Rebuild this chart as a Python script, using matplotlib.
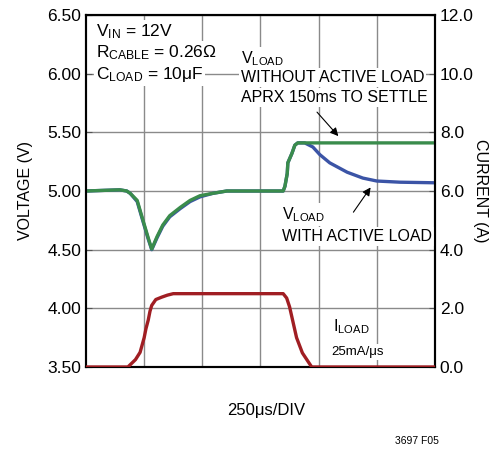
import matplotlib
matplotlib.use('Agg')
import matplotlib.pyplot as plt

plt.rcParams['font.family'] = ['Liberation Sans', 'DejaVu Sans']
plt.rcParams['mathtext.fontset'] = 'custom'
plt.rcParams['mathtext.rm'] = 'Liberation Sans'
plt.rcParams['mathtext.it'] = 'Liberation Sans'

# time in divisions (250us/div)
t_nal = [0, 0.58, 0.70, 0.76, 0.88, 0.98, 1.07, 1.13, 1.22, 1.32, 1.44, 1.62, 1.79,
         1.96, 2.18, 2.42, 3.39, 3.42, 3.46, 3.47, 3.54, 3.59, 3.64, 6.0]
v_nal = [5.00, 5.01, 5.00, 4.98, 4.92, 4.75, 4.60, 4.505, 4.61, 4.71, 4.79, 4.86, 4.92,
         4.96, 4.98, 5.00, 5.00, 5.04, 5.15, 5.24, 5.32, 5.39, 5.41, 5.41]

t_al = [0, 0.58, 0.70, 0.76, 0.88, 0.98, 1.07, 1.13, 1.22, 1.32, 1.44, 1.62, 1.79,
        1.96, 2.18, 2.42, 3.39, 3.42, 3.46, 3.47, 3.54, 3.59, 3.64, 3.76, 3.90, 4.02,
        4.19, 4.49, 4.76, 5.00, 5.40, 6.0]
v_al = [5.00, 5.01, 5.00, 4.98, 4.91, 4.74, 4.59, 4.50, 4.60, 4.70, 4.78, 4.85, 4.91,
        4.95, 4.98, 5.00, 5.00, 5.04, 5.15, 5.24, 5.32, 5.39, 5.41, 5.41, 5.375, 5.31,
        5.24, 5.16, 5.11, 5.085, 5.075, 5.07]

t_i = [0, 0.72, 0.85, 0.93, 1.0, 1.03, 1.07, 1.10, 1.13, 1.2, 1.3, 1.4, 1.5,
       3.39, 3.45, 3.5, 3.54, 3.62, 3.72, 3.88, 6.0]
i_load = [0, 0, 0.25, 0.5, 1.0, 1.3, 1.6, 1.9, 2.1, 2.3, 2.38, 2.45, 2.5,
          2.5, 2.35, 2.05, 1.7, 1.0, 0.48, 0, 0]

v_ticks = [3.5, 4.0, 4.5, 5.0, 5.5, 6.0, 6.5]
i_ticks = [0, 2, 4, 6, 8, 10, 12]

fig = plt.figure(figsize=(5.02, 4.5), dpi=100)
ax = fig.add_axes([86/502, 83/450, 349/502, 352/450])
ax2 = ax.twinx()

ax.set_xlim(0, 6)
ax.set_ylim(3.5, 6.5)
ax2.set_ylim(0, 12)
ax.set_xticks([1, 2, 3, 4, 5])
ax.set_yticks(v_ticks)
ax.set_yticklabels(['%.2f' % v for v in v_ticks])
ax2.set_yticks(i_ticks)
ax2.set_yticklabels(['%.1f' % v for v in i_ticks])
ax.grid(True, color='#8a8a8a', lw=1.0, zorder=0)
ax.tick_params(axis='x', length=0, labelbottom=False)
ax.tick_params(axis='y', direction='in', length=4, labelsize=12.5, color='#555555')
ax2.tick_params(axis='y', direction='in', length=4, labelsize=12.5, color='#555555')
for a in (ax, ax2):
    for s in a.spines.values():
        s.set_linewidth(1.5)

ax.set_ylabel('VOLTAGE (V)', fontsize=11.5, labelpad=10)
ax2.set_ylabel('CURRENT (A)', fontsize=11.5, rotation=270, labelpad=5, va='center')

ax.plot(t_al, v_al, color='#3b54a6', lw=2.4, zorder=3)
ax.plot(t_nal, v_nal, color='#3a8c4c', lw=2.4, zorder=4)
ax2.plot(t_i, i_load, color='#a01e23', lw=2.4, zorder=3)

box = dict(fc='white', ec='none', pad=1.5)
txt = [
    (0.17, 6.36, r'V$_{\mathrm{IN}}$ = 12V', 12.5),
    (0.17, 6.18, r'R$_{\mathrm{CABLE}}$ = 0.26Ω', 12.5),
    (0.17, 5.99, r'C$_{\mathrm{LOAD}}$ = 10μF', 12.5),
    (2.66, 6.13, r'V$_{\mathrm{LOAD}}$', 11.5),
    (2.66, 5.97, 'WITHOUT ACTIVE LOAD', 11.5),
    (2.66, 5.80, 'APRX 150ms TO SETTLE', 11.5),
    (3.37, 4.80, r'V$_{\mathrm{LOAD}}$', 11.5),
    (3.37, 4.61, 'WITH ACTIVE LOAD', 11.5),
    (4.25, 3.84, r'I$_{\mathrm{LOAD}}$', 11.5),
]
for x, y, s, fs in txt:
    ax.text(x, y, s, fontsize=fs, va='center', ha='left', bbox=box, zorder=5)
ax.text(4.22, 3.63, '25mA/μs', fontsize=9.5, va='center', ha='left', bbox=box, zorder=5)

ax.annotate('', xy=(4.37, 5.45), xytext=(3.94, 5.69),
            arrowprops=dict(arrowstyle='-|>', color='black', lw=0.8,
                            mutation_scale=12), zorder=6)
ax.annotate('', xy=(4.92, 5.05), xytext=(4.57, 4.80),
            arrowprops=dict(arrowstyle='-|>', color='black', lw=0.8,
                            mutation_scale=12), zorder=6)

fig.text(266/502, 1 - 410/450, '250μs/DIV', fontsize=12, ha='center', va='center')
fig.text(417/502, 1 - 441/450, '3697 F05', fontsize=7.5, ha='center', va='center')

fig.savefig('out.png', dpi=100)
